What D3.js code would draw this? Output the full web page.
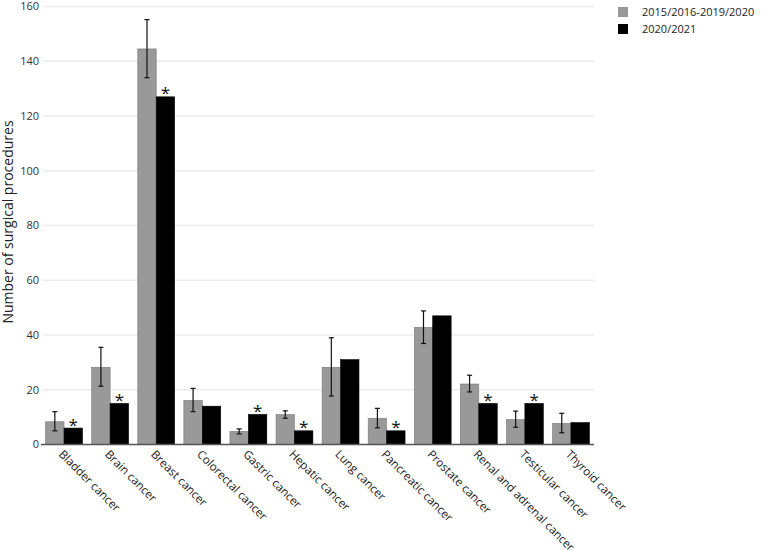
<!DOCTYPE html>
<html><head><meta charset="utf-8">
<script src="https://cdn.jsdelivr.net/npm/d3@7"></script>
<style>body{margin:0;background:#fff}text{font-family:"Open Sans",sans-serif}</style>
</head><body>
<svg id="c" width="762" height="550"></svg>
<script>
const categories=["Bladder cancer","Brain cancer","Breast cancer","Colorectal cancer","Gastric cancer","Hepatic cancer","Lung cancer","Pancreatic cancer","Prostate cancer","Renal and adrenal cancer","Testicular cancer","Thyroid cancer"];
const seriesNames=["2015/2016-2019/2020","2020/2021"];
const prePandemic=[8.3,28.2,144.5,16.1,4.8,10.9,28.2,9.6,42.8,22.1,9.1,7.7];
const preLow=[5.0,21.3,134,12.0,3.9,9.6,17.7,6.1,36.9,19.2,6.3,4.3];
const preHigh=[12.0,35.5,155.2,20.5,5.7,12.3,39.0,13.2,48.8,25.3,12.2,11.4];
const pandemic=[6,15,127,14,11,5,31,5,47,15,15,8];
const significant=[true,true,true,false,true,true,false,true,false,true,true,false];
const yTicks=[0,20,40,60,80,100,120,140,160];

const svg=d3.select("#c");
const mLeft=41,mRight=594,mTop=6.5,mBottom=444.5;
const x=d3.scaleBand().domain(categories).range([mLeft,mRight]).paddingInner(0.2).paddingOuter(0.1);
const x1=d3.scaleBand().domain(seriesNames).range([0,x.bandwidth()]);
const y=d3.scaleLinear().domain([0,160]).range([mBottom,mTop]);
const colors=["#999999","#000000"];

// gridlines
svg.append("g").selectAll("line").data(yTicks.slice(1)).join("line")
 .attr("x1",43).attr("x2",mRight).attr("y1",d=>y(d)).attr("y2",d=>y(d))
 .attr("stroke","#ececec").attr("stroke-width",1.5);

// y tick labels
svg.append("g").selectAll("text").data(yTicks).join("text")
 .attr("x",39).attr("y",d=>y(d)).attr("dy","0.35em").attr("text-anchor","end")
 .attr("font-size",11).attr("fill","#333").text(d=>d);

// y title
svg.append("text").attr("transform",`translate(12.5,222) rotate(-90)`).attr("text-anchor","middle")
 .attr("font-size",14).attr("fill","#222").text("Number of surgical procedures");

const g=svg.append("g");
categories.forEach((c,i)=>{
  const vals=[prePandemic[i],pandemic[i]];
  vals.forEach((v,j)=>{
    g.append("rect").attr("x",x(c)+x1(seriesNames[j])).attr("width",x1.bandwidth())
     .attr("y",y(v)).attr("height",y(0)-y(v)).attr("fill",colors[j])
     .attr("stroke",j===0?"#7a7a7a":"#000").attr("stroke-width",0.6);
  });
  const cx=x(c)+x1(seriesNames[0])+x1.bandwidth()/2;
  g.append("line").attr("x1",cx).attr("x2",cx).attr("y1",y(preLow[i])).attr("y2",y(preHigh[i])).attr("stroke","#111").attr("stroke-width",1.2);
  [preLow[i],preHigh[i]].forEach(v=>{
    g.append("line").attr("x1",cx-2.5).attr("x2",cx+2.5).attr("y1",y(v)).attr("y2",y(v)).attr("stroke","#111").attr("stroke-width",1.2);
  });
  if(significant[i]){
    const bx=x(c)+x1(seriesNames[1])+x1.bandwidth()/2;
    g.append("text").attr("x",bx).attr("y",y(pandemic[i])+2.5).attr("text-anchor","middle")
     .attr("font-size",17).attr("fill","#111").text("*");
  }
});

// baseline
svg.append("line").attr("x1",41).attr("x2",mRight).attr("y1",y(0)).attr("y2",y(0)).attr("stroke","#555").attr("stroke-width",1.5);

// x labels
svg.append("g").selectAll("text").data(categories).join("text")
 .attr("transform",d=>`translate(${x(d)+x.bandwidth()/2-6},455) rotate(45)`)
 .attr("text-anchor","start").attr("font-size",11.6).attr("fill","#222").text(d=>d);

// legend
const lg=svg.append("g");
seriesNames.forEach((s,j)=>{
  lg.append("rect").attr("x",618).attr("y",7+j*17).attr("width",10).attr("height",10).attr("fill",colors[j]);
  lg.append("text").attr("x",642).attr("y",12+j*17).attr("dy","0.35em").attr("font-size",11).attr("fill","#222").text(s);
});
</script>
</body></html>
